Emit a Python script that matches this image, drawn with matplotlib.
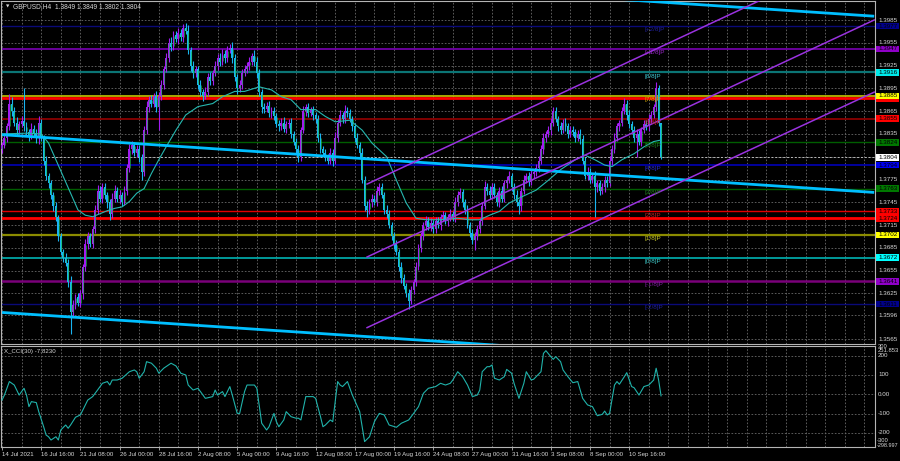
import matplotlib
matplotlib.use("Agg")
import matplotlib.pyplot as plt
from matplotlib.patches import Rectangle

# ---------------- data ----------------
SYMBOL_TITLE = "GBPUSD,H4  1.3849 1.3849 1.3802 1.3804"
CCI_TITLE = "X_CCI(30) -7.8230"

BASE = 1.3
PIP = 0.0001
FIRST_OPEN = 815
CLOSE_PIPS = [
    820, 830, 845, 875, 865, 850, 840, 848, 852, 845,
    838, 832, 842, 836, 830, 850, 830, 800, 780, 770,
    755, 740, 725, 700, 680, 672, 665, 640, 600, 610,
    620, 612, 625, 660, 690, 700, 690, 710, 735, 760,
    750, 765, 755, 745, 730, 750, 760, 750, 755, 745,
    760, 790, 815, 820, 810, 815, 805, 785, 840, 870,
    880, 875, 885, 870, 885, 900, 920, 935, 955, 950,
    965, 960, 968, 962, 975, 970, 945, 925, 915, 920,
    900, 890, 885, 890, 910, 905, 915, 925, 935, 930,
    940, 935, 945, 948, 935, 910, 895, 900, 915, 920,
    925, 930, 938, 930, 915, 890, 870, 868, 872, 862,
    865, 858, 848, 845, 850, 842, 848, 850, 835, 825,
    815, 805, 840, 865, 870, 862, 866, 860, 855, 830,
    815, 810, 805, 800, 810, 800, 830, 850, 860, 855,
    865, 862, 855, 845, 830, 820, 810, 775, 740, 735,
    745, 750, 745, 760, 765, 755, 735, 730, 715, 700,
    690, 680, 660, 645, 635, 625, 615, 630, 640, 660,
    685, 700, 715, 720, 712, 718, 710, 720, 715, 725,
    728, 720, 725, 730, 725, 745, 755, 758, 745, 735,
    715, 705, 695, 700, 710, 720, 740, 765, 760, 755,
    765, 755, 745, 760, 750, 770, 775, 780, 765, 755,
    745, 740, 760, 775, 780, 772, 782, 785, 790, 800,
    815, 830, 835, 840, 850, 865, 855, 845, 840, 850,
    845, 835, 840, 838, 830, 835, 828, 800, 780, 785,
    775, 780, 765, 770, 760, 765, 775, 770, 800, 815,
    830, 845, 850, 865, 875, 860, 848, 840, 830, 835,
    825, 840, 848, 845, 855, 860, 870, 895, 849, 804,
]
UPPER_WICK = [
    5, 6, 4, 13, 8, 5, 7, 4, 6, 43,
    6, 4, 8, 5, 6, 8, 5, 4, 6, 3,
    5, 4, 6, 3, 5, 4, 6, 5, 8, 7,
    4, 6, 5, 4, 7, 6, 5, 4, 6, 8,
    7, 5, 6, 4, 5, 7, 8, 5, 6, 4,
    6, 5, 7, 6, 4, 5, 6, 4, 6, 8,
    5, 6, 4, 7, 5, 6, 5, 7, 6, 8,
    6, 5, 7, 5, 5, 6, 8, 5, 6, 4,
    5, 6, 4, 7, 5, 6, 4, 6, 5, 6,
    7, 5, 6, 6, 8, 5, 4, 6, 5, 6,
    5, 6, 4, 7, 6, 5, 4, 6, 5, 7,
    5, 6, 4, 5, 6, 7, 4, 5, 6, 4,
    5, 6, 4, 7, 5, 6, 5, 6, 4, 5,
    6, 4, 5, 4, 6, 5, 7, 5, 6, 4,
    8, 5, 6, 4, 5, 6, 4, 6, 5, 7,
    5, 6, 4, 7, 6, 5, 4, 6, 5, 4,
    6, 5, 4, 6, 5, 4, 6, 5, 4, 6,
    5, 6, 4, 7, 5, 6, 4, 5, 6, 5,
    6, 4, 5, 6, 4, 7, 5, 6, 4, 5,
    6, 4, 5, 6, 5, 4, 6, 8, 5, 6,
    5, 6, 4, 5, 6, 4, 5, 6, 4, 5,
    6, 4, 5, 6, 4, 5, 6, 4, 5, 6,
    5, 6, 4, 5, 6, 6, 5, 4, 6, 5,
    6, 4, 5, 6, 4, 5, 6, 5, 4, 6,
    5, 4, 6, 5, 4, 6, 5, 4, 6, 5,
    6, 5, 4, 6, 7, 5, 6, 4, 5, 6,
    5, 4, 6, 5, 6, 5, 4, 9, 5, 0,
]
LOWER_WICK = [
    5, 4, 6, 5, 7, 4, 6, 5, 4, 6,
    5, 6, 4, 5, 7, 8, 4, 6, 5, 6,
    5, 7, 4, 6, 5, 6, 4, 7, 29, 5,
    6, 4, 5, 7, 5, 6, 4, 5, 6, 5,
    4, 6, 5, 7, 8, 6, 4, 5, 6, 5,
    4, 6, 5, 6, 4, 5, 7, 11, 6, 5,
    6, 4, 5, 6, 30, 5, 6, 4, 5, 6,
    5, 4, 6, 5, 6, 4, 5, 7, 6, 5,
    6, 5, 7, 4, 5, 6, 5, 4, 6, 5,
    4, 6, 5, 4, 6, 5, 7, 5, 6, 4,
    5, 6, 4, 5, 6, 5, 7, 6, 4, 5,
    6, 5, 4, 6, 5, 4, 6, 5, 6, 5,
    6, 7, 5, 4, 6, 5, 4, 6, 5, 6,
    5, 4, 6, 5, 4, 7, 5, 6, 4, 5,
    6, 5, 4, 6, 5, 4, 6, 5, 6, 9,
    5, 6, 4, 5, 6, 4, 5, 6, 4, 5,
    6, 4, 5, 6, 4, 5, 10, 4, 6, 5,
    4, 6, 5, 6, 4, 5, 6, 5, 4, 6,
    5, 4, 6, 5, 4, 6, 5, 4, 6, 5,
    4, 6, 5, 13, 4, 6, 5, 4, 6, 5,
    6, 4, 5, 6, 4, 5, 6, 4, 5, 6,
    5, 10, 6, 4, 5, 6, 4, 5, 6, 5,
    4, 6, 5, 4, 6, 5, 4, 6, 5, 4,
    6, 5, 4, 6, 5, 4, 6, 5, 4, 6,
    5, 4, 39, 6, 5, 4, 6, 5, 4, 6,
    5, 4, 6, 5, 4, 6, 5, 4, 6, 25,
    5, 6, 4, 5, 6, 5, 4, 5, 4, 2,
]

MA_BARS = [0, 10, 16, 19, 22, 25, 28, 31, 34, 37, 40, 43, 46, 49, 52, 55, 58, 61, 64, 67,
           71, 75, 80, 86, 90, 95, 99, 105, 110, 114, 118, 122, 128, 132, 136, 142, 147,
           151, 157, 161, 165, 169, 173, 179, 186, 191, 195, 199, 203, 207, 212, 218, 223,
           228, 234, 238, 242, 246, 249, 253, 258, 262, 266, 269]
MA_PIPS = [835, 836, 835, 823, 801, 779, 757, 735, 728, 726, 730, 734, 737, 739, 746, 757, 763,
           783, 801, 818, 840, 860, 871, 875, 884, 891, 891, 897, 893, 884, 880, 867, 867, 858,
           851, 853, 840, 823, 805, 774, 744, 724, 722, 722, 724, 722, 722, 728, 733, 744, 752,
           761, 774, 788, 801, 807, 801, 794, 792, 801, 809, 818, 825, 827]

CCI_BARS = [0, 1, 3, 5, 7, 8, 9, 10, 11, 12, 14, 15, 17, 18, 19, 20, 22, 23, 24, 26, 27, 28,
            30, 32, 33, 35, 37, 39, 41, 43, 44, 45, 47, 49, 52, 54, 55, 56, 58, 59, 61, 63,
            64, 66, 69, 71, 73, 75, 76, 78, 80, 81, 83, 86, 87, 88, 90, 91, 93, 94, 96, 97,
            99, 100, 103, 104, 106, 108, 109, 111, 112, 113, 115, 116, 118, 120, 121, 122,
            124, 127, 128, 130, 131, 132, 134, 135, 137, 138, 139, 141, 143, 146, 148, 150,
            152, 154, 156, 158, 161, 163, 166, 168, 170, 172, 174, 177, 179, 181, 183, 184,
            186, 188, 190, 192, 194, 195, 196, 198, 199, 200, 201, 203, 205, 206, 208, 209,
            211, 213, 214, 216, 217, 218, 220, 221, 222, 224, 225, 226, 228, 229, 231, 233,
            235, 237, 239, 241, 243, 245, 246, 247, 248, 250, 251, 252, 254, 255, 257, 258,
            260, 262, 264, 266, 267, 268, 269]
CCI_VALUES = [-30, -4, 66, 48, -4, 14, 31, -4, -64, -38, -43, -90, -168, -211, -220, -237,
              -220, -237, -185, -159, -176, -159, -119, -107, -81, -30, -12, 22, 57, 66, 48,
              74, 74, 83, 117, 126, 117, 83, 117, 169, 161, 135, 109, 135, 161, 147, 109, 100,
              48, 22, 31, 14, -21, -12, 22, -4, 14, -12, 40, -4, -99, -99, 14, 48, 48, 31,
              -150, -185, -168, -99, -142, -168, -133, -90, -116, -124, -124, -133, -12, -12,
              -21, -116, -168, -159, -133, -142, 66, 48, 40, 66, -4, -90, -245, -220, -142,
              -99, -107, -159, -171, -150, -133, -99, -64, 5, 31, 40, 57, 48, 57, 74, 117, 91,
              48, -12, -4, 22, 117, 143, 143, 152, 83, 74, 91, 129, 109, 57, -21, 57, 117, 74,
              78, 91, 117, 212, 226, 195, 181, 195, 169, 126, 91, 60, 66, -21, -55, -64, -111,
              -104, -87, -107, -99, 48, 66, 52, 91, 112, 40, 34, -4, 40, 48, 74, 135, 74, -8]

DATE_BARS = [0, 16, 32, 48, 64, 80, 96, 112, 128, 144, 160, 176, 192, 208, 224, 240, 256]
DATE_LABELS = ["14 Jul 2021", "16 Jul 16:00", "21 Jul 08:00", "26 Jul 00:00", "28 Jul 16:00",
               "2 Aug 08:00", "5 Aug 00:00", "9 Aug 16:00", "12 Aug 08:00", "17 Aug 00:00",
               "19 Aug 16:00", "24 Aug 08:00", "27 Aug 00:00", "31 Aug 16:00", "3 Sep 08:00",
               "8 Sep 00:00", "10 Sep 16:00"]

PRICE_TICKS = [1.3985, 1.3955, 1.3925, 1.3895, 1.3865, 1.3835, 1.3805, 1.3775, 1.3745,
               1.3715, 1.3685, 1.3655, 1.3625, 1.3596, 1.3565]
PRICE_TICK_LABELS = ["1.3985", "1.3955", "1.3925", "1.3895", "1.3865", "1.3835", "1.3805",
                     "1.3775", "1.3745", "1.3715", "1.3685", "1.3655", "1.3625", "1.3596",
                     "1.3565"]

MURREY_PRICES = [1.3977, 1.3947, 1.3916, 1.3885, 1.3855, 1.3824, 1.3794, 1.3763, 1.3733,
                 1.3702, 1.3672, 1.3641, 1.3611]
MURREY_NAMES = ["[+2/8]P", "[+1/8]P", "[8/8]P", "[7/8]P", "[6/8]P", "[5/8]P", "[4/8]P",
                "[3/8]P", "[2/8]P", "[1/8]P", "[0/8]P", "[-1/8]P", "[-2/8]P"]
MURREY_LINE_COLORS = ["#0a0a78", "#7a00b4", "#0b7575", "#c8c400", "#8a0000", "#005e00",
                      "#0000a8", "#005e00", "#e00000", "#8c8c00", "#00b4b4", "#7a007a", "#0a0a78"]
MURREY_LINE_WIDTHS = [1.0, 1.2, 1.6, 1.2, 1.3, 1.0, 1.3, 1.0, 1.0, 1.6, 1.2, 1.8, 1.0]
MURREY_BOX_COLORS = ["#00008c", "#8f00c8", "#00eaea", "#ffff00", "#ff0000", "#007800",
                     "#0000f0", "#007800", "#ff0000", "#ffff00", "#00ffff", "#9000c8", "#00008c"]
MURREY_TEXT_COLORS = ["#20209a", "#9a28c8", "#3ec8d2", "#d8a800", "#c82020", "#1e7a1e",
                      "#2828d0", "#1e7a1e", "#c82020", "#c8c828", "#3ec8c8", "#8020a0", "#20209a"]

EXTRA_LEVELS = [1.3882, 1.3724]        # thick red support/resistance lines
EXTRA_LABELED = [False, True]
CURRENT_PRICE = 1.3804

TREND_BARS = [0, 356]
TREND_TOP = [1.4066, 1.3990]
TREND_MID = [1.3834, 1.3758]
TREND_BOT = [1.3600, 1.3524]
CHANNEL_BARS = [149, 356]
CHANNEL_UP = [1.3769, 1.4081]
CHANNEL_MID = [1.3673, 1.3985]
CHANNEL_LOW = [1.3580, 1.3890]

CCI_LEVELS = [200, 100, 0, -100, -200]
CCI_LEVEL_LABELS = ["200", "100", "0.00", "-100", "-200"]

# ---------------- styling ----------------
BG = "#000000"
GRID = "#6a6a6a"
FRAME = "#b4b4b4"
TXT = "#d8d8d8"
BULL = "#a21cf0"
BEAR = "#18b4f0"
FILL = "#19c24a"
FONT = ["Liberation Sans", "DejaVu Sans"]

W, H = 900, 461
fig = plt.figure(figsize=(W / 100, H / 100), dpi=100, facecolor=BG)


def fx(px):
    return px / W


def fy(py):
    return 1 - py / H


# pixel geometry
LEFT_PX, RIGHT_PX = 1, 875
MAIN_TOP, MAIN_BOT = 0.5, 343.5
CCI_TOP, CCI_BOT = 345.5, 446.5
BAR_PX = 2.45
X0_PX = 2.0

ax = fig.add_axes([fx(LEFT_PX), fy(MAIN_BOT), fx(RIGHT_PX - LEFT_PX), (MAIN_BOT - MAIN_TOP) / H])
ax2 = fig.add_axes([fx(LEFT_PX), fy(CCI_BOT), fx(RIGHT_PX - LEFT_PX), (CCI_BOT - CCI_TOP) / H])

xlim = ((LEFT_PX - X0_PX) / BAR_PX, (RIGHT_PX - X0_PX) / BAR_PX)
PX_PER_PRICE = 7596.0
p_top = 1.3985 + (20 - MAIN_TOP) / PX_PER_PRICE
p_bot = 1.3985 - (MAIN_BOT - 20) / PX_PER_PRICE

for a in (ax, ax2):
    a.set_facecolor(BG)
    a.set_xlim(*xlim)
    for s in a.spines.values():
        s.set_color(FRAME)
        s.set_linewidth(0.8)
    a.tick_params(left=False, right=False, labelleft=False, top=False)

ax.set_ylim(p_bot, p_top)
ax.tick_params(bottom=False, labelbottom=False)
ax2.set_ylim(-270.5, 252.8)

# vertical grid every 8 bars
for b in range(0, 357, 8):
    for a in (ax, ax2):
        a.axvline(b, color=GRID, lw=0.6, ls=(0, (2, 2)), zorder=1)
for p in PRICE_TICKS:
    ax.axhline(p, color=GRID, lw=0.6, ls=(0, (2, 2)), zorder=1)
for v in CCI_LEVELS:
    ax2.axhline(v, color=GRID, lw=0.6, ls=(0, (2, 2)), zorder=1)

# murrey lines
for price, col, lw in zip(MURREY_PRICES, MURREY_LINE_COLORS, MURREY_LINE_WIDTHS):
    ax.axhline(price, color=col, lw=lw, zorder=2)
for price in EXTRA_LEVELS:
    ax.axhline(price, color="#ff0000", lw=2.0, zorder=2)
ax.axhline(CURRENT_PRICE, color="#b8b8b8", lw=0.7, ls=(0, (2, 2)), zorder=2)

# candles
opens = [FIRST_OPEN] + CLOSE_PIPS[:-1]
for i, (o, c, uw, lw_) in enumerate(zip(opens, CLOSE_PIPS, UPPER_WICK, LOWER_WICK)):
    top = max(o, c)
    bot = min(o, c)
    col = BULL if c >= o else BEAR
    hi = BASE + (top + uw) * PIP
    lo = BASE + (bot - lw_) * PIP
    ax.vlines(i, lo, hi, color=col, lw=0.8, zorder=3)
    h = max(top - bot, 0.6) * PIP
    ax.add_patch(Rectangle((i - 0.4, BASE + bot * PIP), 0.8, h, facecolor=col,
                           edgecolor="none", zorder=4))
    if top - bot >= 3:
        ax.vlines(i + 0.1, BASE + (bot + 0.8) * PIP, BASE + (top - 0.8) * PIP,
                  color=FILL, lw=0.45, zorder=4.5)

# moving average
ax.plot(MA_BARS, [BASE + v * PIP for v in MA_PIPS], color="#26b8b0", lw=0.8, zorder=5)

# trend lines
for ys in (TREND_TOP, TREND_MID, TREND_BOT):
    ax.plot(TREND_BARS, ys, color="#00bfff", lw=2.0, zorder=6, solid_capstyle="butt")
for ys in (CHANNEL_UP, CHANNEL_MID, CHANNEL_LOW):
    ax.plot(CHANNEL_BARS, ys, color="#9a32e0", lw=1.1, zorder=6)

# murrey labels
LABEL_BAR = 262.3
for price, name, tc in zip(MURREY_PRICES, MURREY_NAMES, MURREY_TEXT_COLORS):
    ax.annotate(name, (LABEL_BAR, price), xytext=(0, -0.8), textcoords="offset points",
                ha="left", va="top", fontsize=4.6, color=tc, family=FONT, zorder=7)

# right price axis labels and boxes
yt = ax.get_yaxis_transform()
ax_px = RIGHT_PX - LEFT_PX
lab_x = (878 - LEFT_PX) / ax_px
for p, t in zip(PRICE_TICKS, PRICE_TICK_LABELS):
    if abs(p - CURRENT_PRICE) < 0.0003:
        continue  # hidden behind the current price box
    ax.text(lab_x, p, t, transform=yt, fontsize=4.5, color=TXT, va="center", ha="left",
            family=FONT, clip_on=False, zorder=8)

box_x0 = (876 - LEFT_PX) / ax_px
box_w = 22.5 / ax_px
box_h = 3.3 / PX_PER_PRICE


def price_box(price, color, text=None, tcolor="#000000"):
    ax.add_patch(Rectangle((box_x0, price - box_h), box_w, 2 * box_h, transform=yt,
                           facecolor=color, edgecolor="none", clip_on=False, zorder=9))
    if text:
        ax.text(lab_x, price, text, transform=yt, fontsize=4.5, color=tcolor, va="center",
                ha="left", family=FONT, clip_on=False, zorder=10)


for price, shown in zip(EXTRA_LEVELS, EXTRA_LABELED):
    price_box(price, "#ff0000", f"{price:.4f}" if shown else None)
for price, col in zip(MURREY_PRICES, MURREY_BOX_COLORS):
    price_box(price, col, f"{price:.4f}")
price_box(CURRENT_PRICE, "#ffffff", f"{CURRENT_PRICE:.4f}")

# CCI pane
ax2.plot(CCI_BARS, CCI_VALUES, color="#20b2aa", lw=0.8, zorder=5)
yt2 = ax2.get_yaxis_transform()
for v, t in zip(CCI_LEVELS, CCI_LEVEL_LABELS):
    ax2.text(lab_x, v, t, transform=yt2, fontsize=4.5, color=TXT, va="center", ha="left",
             family=FONT, clip_on=False)
fig.text(fx(878), fy(346.3), "300", fontsize=4.2, color=TXT, va="center", ha="left", family=FONT)
fig.text(fx(878), fy(350.5), "251.853", fontsize=4.2, color=TXT, va="center", ha="left", family=FONT)
fig.text(fx(877), fy(440.8), "-300", fontsize=4.2, color=TXT, va="center", ha="left", family=FONT)
fig.text(fx(877), fy(445), "-298.997", fontsize=4.0, color=TXT, va="center", ha="left", family=FONT)

ax2.set_xticks(DATE_BARS)
ax2.set_xticklabels(DATE_LABELS, ha="left", fontsize=4.4, color=TXT, family=FONT)
ax2.tick_params(axis="x", colors=FRAME, length=2.5, width=0.6, pad=1.5, labelcolor=TXT)

# titles
fig.text(fx(6), fy(6.5), "\u25bc", fontsize=3.2, color=TXT, va="center", ha="left",
         family=["DejaVu Sans"])
fig.text(fx(13), fy(6.5), SYMBOL_TITLE, fontsize=4.8, color=TXT, va="center", ha="left",
         family=FONT)
fig.text(fx(4), fy(351), CCI_TITLE, fontsize=4.4, color=TXT, va="center", ha="left",
         family=FONT)

fig.savefig("out.png", dpi=100, facecolor=BG)
